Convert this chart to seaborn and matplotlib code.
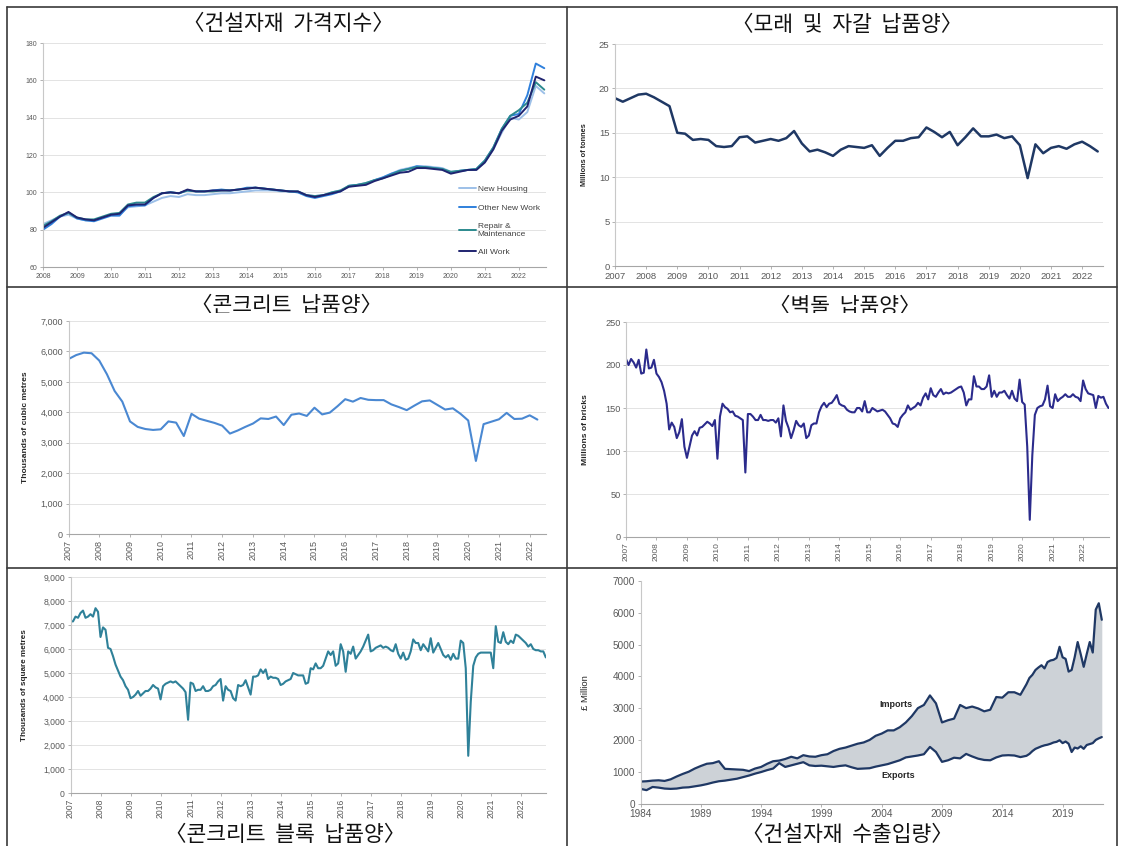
import numpy as np
import pandas as pd
import seaborn as sns
import matplotlib.pyplot as plt
from matplotlib.lines import Line2D
from matplotlib.patches import Rectangle
from matplotlib.ticker import StrMethodFormatter

W, H = 1121, 846

# ---- 건설자재 가격지수 (quarterly, 2008 Q1 .. 2022 Q4) ----
price_years = 2008 + np.arange(60) / 4
new_housing = [83, 85, 87, 88, 86, 85, 85, 86.5, 88, 88, 92, 92.5, 93, 95, 97, 98,
               97.5, 99, 98.5, 98.5, 99, 99.5, 99.5, 100, 100.5, 101, 101, 101, 100.5, 100.5, 100, 98.5,
               98, 98.5, 100, 101, 103, 104, 105, 106.5, 108, 110, 112, 113, 114, 114, 113.5, 113,
               111, 111.5, 112, 112, 116, 123, 132, 140, 139, 143, 157, 153]
other_new_work = [80, 83, 87, 89, 86, 85, 84.5, 86, 87.5, 87.5, 92.5, 93, 93, 97, 99.5, 100,
                  99.5, 101, 100.5, 100.5, 101, 101.5, 101, 101.5, 102.5, 102.5, 102, 101.5, 101, 100.5, 100, 98,
                  97, 98, 99, 100.5, 103.5, 104, 104.5, 106.5, 108, 110, 111.5, 112.5, 114, 113.5, 113, 112.5,
                  110.5, 111.5, 112, 112.5, 117, 124, 134, 141, 142, 152, 169, 166.5]
repair_maint = [82, 84.5, 87.5, 89, 86.5, 85.5, 85.5, 87, 88.5, 89, 93.5, 94.5, 94.5, 97.5, 99.5, 100,
                99.5, 101, 100.5, 100.5, 100.5, 101, 101, 101.5, 102, 102.5, 102, 101.5, 101, 100.5, 100.5, 98.5,
                98, 98.5, 100, 101, 103.5, 104, 105, 106.5, 107.5, 109.5, 111.5, 112.5, 113.5, 113.5, 113, 112.5,
                111, 111.5, 112, 112.5, 117, 124, 134, 141, 144, 148, 159, 155]
all_work = [81, 84, 87, 89.5, 86.5, 85.5, 85, 86.5, 88, 88.5, 93, 93.5, 93.5, 97, 99.5, 100,
            99.5, 101.5, 100.5, 100.5, 101, 101, 101, 101.5, 102, 102.5, 102, 101.5, 101, 100.5, 100.5, 98.5,
            97.5, 98.5, 99.5, 100.5, 103, 103.5, 104, 106, 107.5, 109, 110.5, 111, 113, 113, 112.5, 112,
            110, 111, 112, 112, 116, 123, 133, 139, 141, 146, 162, 160]
price_names = ['New Housing', 'Other New Work', 'Repair &\nMaintenance', 'All Work']
price_colors = ['#9DC0E8', '#2F80DC', '#2C8A8E', '#1F2470']

# ---- 모래 및 자갈 납품양 (quarterly, 2007 Q1 .. 2022 Q3) ----
sand_years = 2007 + np.arange(63) / 4
sand_gravel = [18.9, 18.5, 18.9, 19.3, 19.4, 19.0, 18.5, 18.0, 15.0, 14.9, 14.2, 14.3,
               14.2, 13.5, 13.4, 13.5, 14.5, 14.6, 13.9, 14.1, 14.3, 14.1, 14.4, 15.2,
               13.8, 12.9, 13.1, 12.8, 12.4, 13.1, 13.5, 13.4, 13.3, 13.6, 12.4, 13.3,
               14.1, 14.1, 14.4, 14.5, 15.6, 15.1, 14.5, 15.1, 13.6, 14.5, 15.5, 14.6,
               14.6, 14.8, 14.4, 14.6, 13.6, 9.9, 13.7, 12.7, 13.3, 13.5, 13.2, 13.7,
               14.0, 13.5, 12.9]

# ---- 콘크리트 납품양 (quarterly, 2007 Q1 .. 2022 Q2) ----
concrete_years = 2007 + np.arange(62) / 4
concrete = [5750, 5880, 5960, 5940, 5700, 5250, 4700, 4350, 3700, 3520, 3450, 3420,
            3440, 3700, 3660, 3220, 3950, 3790, 3720, 3650, 3560, 3300, 3400, 3520,
            3630, 3800, 3780, 3860, 3580, 3920, 3960, 3880, 4150, 3930, 3990, 4200,
            4430, 4350, 4470, 4410, 4400, 4400, 4260, 4170, 4070, 4220, 4360, 4390,
            4240, 4090, 4130, 3950, 3730, 2400, 3610, 3690, 3770, 3980, 3780, 3790,
            3900, 3760]

# ---- 벽돌 납품양 (monthly, Jan 2007 .. Nov 2022) ----
month_years = 2007 + np.arange(191) / 12
bricks = [207, 200, 207, 203, 197, 206, 190, 191, 218, 196, 197, 206,
          190, 186, 180, 170, 155, 125, 133, 128, 115, 122, 137, 105,
          92, 105, 118, 123, 118, 127, 128, 131, 134, 132, 129, 136,
          91, 140, 155, 151, 149, 145, 146, 141, 140, 138, 136, 75,
          143, 143, 140, 136, 136, 142, 136, 136, 135, 136, 136, 133,
          138, 117, 153, 135, 127, 115, 124, 135, 130, 128, 132, 115,
          118, 130, 132, 132, 145, 152, 156, 151, 155, 156, 160, 165,
          155, 153, 152, 148, 146, 145, 145, 150, 150, 146, 158, 145,
          145, 150, 148, 146, 147, 148, 146, 142, 138, 132, 131, 128,
          138, 142, 145, 153, 148, 150, 152, 156, 153, 162, 167, 160,
          173, 165, 163, 168, 172, 166, 168, 167, 168, 170, 172, 174,
          175, 168, 153, 160, 160, 187, 175, 175, 172, 172, 175, 188,
          163, 170, 163, 168, 168, 170, 165, 161, 170, 161, 158, 183,
          157, 154, 105, 20, 95, 142, 150, 152, 153, 160, 176, 152,
          150, 166, 158, 161, 163, 166, 163, 163, 166, 163, 162, 158,
          182, 172, 167, 166, 165, 150, 164, 162, 163, 155, 150]

# ---- 콘크리트 블록 납품양 (monthly, Jan 2007 .. Nov 2022) ----
blocks = [7150, 7150, 7350, 7300, 7500, 7600, 7300, 7350, 7450, 7350, 7700, 7550,
          6500, 6900, 6800, 6050, 6000, 5700, 5350, 5100, 4850, 4700, 4450, 4300,
          3950, 4000, 4100, 4250, 4050, 4150, 4250, 4250, 4350, 4500, 4400, 4350,
          3900, 4450, 4550, 4600, 4650, 4600, 4650, 4550, 4450, 4350, 4200, 3050,
          4600, 4550, 4250, 4300, 4300, 4450, 4250, 4250, 4300, 4450, 4500, 4650,
          4750, 3850, 4450, 4300, 4250, 3950, 3850, 4500, 4450, 4500, 4700, 4400,
          4100, 4850, 4850, 4900, 5150, 5000, 5150, 4750, 4850, 4800, 4800, 4750,
          4500, 4550, 4650, 4700, 4750, 5000, 4950, 4900, 4900, 4900, 4550, 4600,
          5200, 5150, 5400, 5200, 5200, 5300, 5600, 5900, 5750, 5900, 5300, 5400,
          6200, 5900, 5050, 5900, 5800, 6100, 5600, 5750, 5900, 6100, 6350, 6600,
          5900, 5950, 6050, 6100, 6150, 6050, 6100, 6050, 5950, 5900, 6200, 5800,
          5600, 5850, 5550, 5600, 5900, 6400, 6250, 6250, 5950, 6200, 6050, 5900,
          6450, 5850, 6050, 6250, 6000, 5750, 5650, 5750, 5550, 5800, 5600, 5600,
          6350, 6250, 5200, 1550, 3800, 5300, 5650, 5800, 5850, 5850, 5850, 5850,
          5850, 5200, 6950, 6300, 6250, 6700, 6300, 6200, 6350, 6250, 6600, 6550,
          6450, 6350, 6250, 6100, 6200, 6000, 5950, 5950, 5900, 5900, 5650]

# ---- 건설자재 수출입량 (half-yearly 1984-2015, quarterly 2016-2022 Q2) ----
trade_years = np.concatenate([np.arange(1984, 2016, 0.5), np.arange(2016, 2022.5, 0.25)])
imports = [690, 700, 720, 730, 710, 760, 850, 930, 1000, 1100, 1180, 1250, 1270, 1330, 1090, 1080,
           1070, 1060, 1020, 1100, 1150, 1250, 1330, 1350, 1400, 1470, 1420, 1520, 1480, 1470, 1520, 1550,
           1650, 1720, 1760, 1820, 1880, 1920, 2000, 2130, 2200, 2300, 2300, 2400, 2550, 2750, 3000, 3100,
           3400, 3150, 2550, 2620, 2670, 3100, 3000, 3050, 2990, 2900, 2950, 3350, 3330, 3500, 3500, 3420,
           3750, 3950, 4050, 4200, 4280, 4350, 4250, 4450, 4500, 4520, 4580, 4930, 4600, 4550, 4150, 4200,
           4600, 5080, 4700, 4300, 4700, 5080, 4750, 6100, 6300, 5780]
exports = [460, 420, 520, 500, 470, 460, 470, 500, 510, 540, 570, 610, 660, 700, 720, 750,
           780, 830, 880, 940, 990, 1050, 1100, 1270, 1150, 1200, 1250, 1300, 1200, 1180, 1190, 1170,
           1150, 1180, 1200, 1140, 1090, 1100, 1110, 1160, 1200, 1240, 1300, 1360, 1450, 1480, 1510, 1550,
           1780, 1620, 1310, 1360, 1440, 1420, 1560, 1480, 1410, 1370, 1360, 1450, 1510, 1520, 1510, 1460,
           1500, 1560, 1650, 1720, 1760, 1800, 1830, 1850, 1880, 1920, 1940, 1990, 1900, 1950, 1880, 1620,
           1760, 1730, 1800, 1720, 1840, 1870, 1900, 2000, 2050, 2090]

titles = ['〈건설자재  가격지수〉', '〈모래  및  자갈  납품양〉', '〈콘크리트  납품양〉',
          '〈벽돌  납품양〉', '〈콘크리트  블록  납품양〉', '〈건설자재  수출입량〉']

sns.set_theme(style="white")
plt.rcParams['font.family'] = ['Liberation Sans', 'Noto Sans CJK KR', 'DejaVu Sans']

fig = plt.figure(figsize=(W / 100, H / 100), dpi=100)
fig.patch.set_facecolor('white')


def box(l, t, r, b):
    return [l / W, 1 - b / H, (r - l) / W, (b - t) / H]


def style_ax(ax, size, grid=True):
    for s in ['top', 'right']:
        ax.spines[s].set_visible(False)
    ax.spines['left'].set_color('#C8C8C8')
    ax.spines['bottom'].set_color('#A6A6A6')
    ax.spines['left'].set_linewidth(0.8)
    ax.spines['bottom'].set_linewidth(0.8)
    ax.tick_params(bottom=True, left=True, colors='#595959', labelsize=size,
                   length=2.5, width=0.6, pad=1.5)
    ax.tick_params(axis='both', color='#A6A6A6')
    if grid:
        ax.yaxis.grid(True, color='#E3E3E3', lw=0.7)
    ax.set_axisbelow(True)
    ax.set_xlabel('')
    ax.set_ylabel('')


def ylab(ax, text, xpix, l, r, size, bold=True):
    ax.set_ylabel(text, fontsize=size, fontweight='bold' if bold else 'normal', color='#262626')
    ax.yaxis.set_label_coords((xpix - l) / (r - l), 0.5)


# panel 1
ax1 = fig.add_axes(box(43, 43, 546, 267))
df1 = pd.DataFrame({'year': np.tile(price_years, 4),
                    'index': new_housing + other_new_work + repair_maint + all_work,
                    'series': np.repeat(price_names, 60)})
sns.lineplot(data=df1, x='year', y='index', hue='series', hue_order=price_names,
             palette=price_colors, lw=1.4, ax=ax1)
ax1.set_xlim(2008, 2022.8)
ax1.set_ylim(60, 180)
ax1.set_yticks(range(60, 181, 20))
ax1.set_xticks(range(2008, 2023))
style_ax(ax1, 5)
handles, labels = ax1.get_legend_handles_labels()
ax1.legend(handles, labels, loc='upper left', bbox_to_anchor=(455 / W, 1 - 181 / H),
           bbox_transform=fig.transFigure, frameon=False, fontsize=6, borderpad=0,
           handlelength=2.0, handletextpad=0.2, labelspacing=1.3, labelcolor='#404040')

# panel 2
l, r = 615, 1103
ax2 = fig.add_axes(box(l, 44, r, 266))
sns.lineplot(x=sand_years, y=sand_gravel, color='#1F3864', lw=1.8, ax=ax2)
ax2.set_xlim(2007, 2022.67)
ax2.set_ylim(0, 25)
ax2.set_yticks(range(0, 26, 5))
ax2.set_xticks(range(2007, 2023))
style_ax(ax2, 6.8)
ylab(ax2, 'Millions of tonnes', 588, l, r, 5.3)

# panel 3
l, r = 68.5, 546
ax3 = fig.add_axes(box(l, 321, r, 534))
sns.lineplot(x=concrete_years, y=concrete, color='#4A88D2', lw=1.5, ax=ax3)
ax3.set_xlim(2007, 2022.53)
ax3.set_ylim(0, 7000)
ax3.set_yticks(range(0, 7001, 1000))
ax3.set_xticks(range(2007, 2023))
ax3.yaxis.set_major_formatter(StrMethodFormatter('{x:,.0f}'))
style_ax(ax3, 6.5)
ax3.tick_params(axis='x', labelrotation=90)
ylab(ax3, 'Thousands of cubic metres', 29, l, r, 6.1)

# panel 4
l, r = 626, 1109
ax4 = fig.add_axes(box(l, 322, r, 537))
sns.lineplot(x=month_years, y=bricks, color='#2B2B8C', lw=1.5, ax=ax4)
ax4.set_xlim(2007, 2022.85)
ax4.set_ylim(0, 250)
ax4.set_yticks(range(0, 251, 50))
ax4.set_xticks(range(2007, 2023))
style_ax(ax4, 6.6)
ax4.tick_params(axis='x', labelrotation=90, labelsize=6)
ylab(ax4, 'Millions of bricks', 589, l, r, 6.1)

# panel 5
l, r = 70.5, 546
ax5 = fig.add_axes(box(l, 577, r, 793))
sns.lineplot(x=month_years, y=blocks, color='#2F8199', lw=1.5, ax=ax5)
ax5.set_xlim(2007, 2022.84)
ax5.set_ylim(0, 9000)
ax5.set_yticks(range(0, 9001, 1000))
ax5.set_xticks(range(2007, 2023))
ax5.yaxis.set_major_formatter(StrMethodFormatter('{x:,.0f}'))
style_ax(ax5, 6.2)
ax5.tick_params(axis='x', labelrotation=90)
ylab(ax5, 'Thousands of square metres', 28, l, r, 5.9)

# panel 6
l, r = 640.5, 1103
ax6 = fig.add_axes(box(l, 581, r, 803.5))
ax6.fill_between(trade_years, exports, imports, color='#CDD2D7', lw=0)
sns.lineplot(x=trade_years, y=imports, color='#1F3864', lw=1.6, ax=ax6)
sns.lineplot(x=trade_years, y=exports, color='#1F3864', lw=1.6, ax=ax6)
ax6.set_xlim(1984, 2022.35)
ax6.set_ylim(0, 7000)
ax6.set_yticks(range(0, 7001, 1000))
ax6.set_xticks(range(1984, 2020, 5))
style_ax(ax6, 7.2, grid=False)
ylab(ax6, '£ Million', 590, l, r, 6.8, bold=False)
ax6.text(2005.2, 3100, 'Imports', fontsize=6.5, fontweight='bold', color='#262626',
         ha='center', va='center')
ax6.text(2005.4, 880, 'Exports', fontsize=6.5, fontweight='bold', color='#262626',
         ha='center', va='center')

# titles
title_pos = [(288, 24), (847, 25), (286, 306), (845, 307), (285, 835), (847, 835)]
for txt, (x, y) in zip(titles, title_pos):
    fig.text(x / W, 1 - y / H, txt, ha='center', va='center', fontsize=15.5,
             family=['Noto Sans CJK KR', 'DejaVu Sans'], color='#111111', zorder=3)

# the chart pictures sit over the lower edge of some titles
for (x0, y0, x1, y1) in [(720, 33, 975, 43), (180, 313, 395, 320), (760, 313, 930, 321)]:
    fig.patches.append(Rectangle((x0 / W, 1 - y1 / H), (x1 - x0) / W, (y1 - y0) / H,
                                 transform=fig.transFigure, facecolor='white',
                                 edgecolor='none', zorder=4))

# table borders
for (x0, y0, x1, y1) in [(7, 7, 1117, 7), (7, 287, 1117, 287), (7, 568, 1117, 568),
                         (7, 7, 7, 846), (567, 7, 567, 846), (1117, 7, 1117, 846)]:
    fig.lines.append(Line2D([x0 / W, x1 / W], [1 - y0 / H, 1 - y1 / H],
                            transform=fig.transFigure, color='#3A3A3A', lw=1.2, zorder=5))

fig.savefig('out.png', dpi=100, facecolor='white')
